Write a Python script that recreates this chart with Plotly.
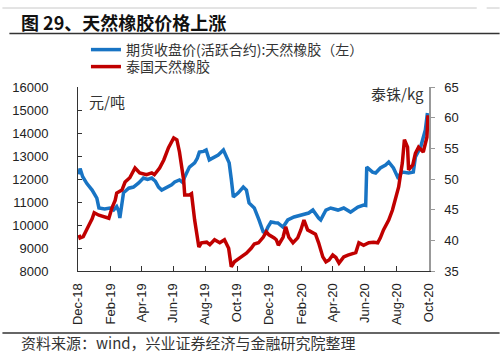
import plotly.graph_objects as go

# ---------------- data ----------------
futures_dates = [
    "2018-12-03","2018-12-05","2018-12-10","2018-12-18","2018-12-28","2019-01-06","2019-01-10",
    "2019-01-21","2019-01-31","2019-02-07","2019-02-13","2019-02-17","2019-02-19","2019-02-23",
    "2019-02-26","2019-03-08","2019-03-17","2019-03-27","2019-04-05","2019-04-13","2019-04-21",
    "2019-04-28","2019-05-04","2019-05-10","2019-05-17","2019-05-23","2019-05-29","2019-06-04",
    "2019-06-13","2019-06-19","2019-06-23","2019-07-02","2019-07-12","2019-07-17","2019-07-21",
    "2019-07-29","2019-08-03","2019-08-09","2019-08-17","2019-08-26","2019-09-05","2019-09-10",
    "2019-09-16","2019-09-20","2019-09-24","2019-10-03","2019-10-13","2019-10-19","2019-10-24",
    "2019-11-03","2019-11-08","2019-11-12","2019-11-20","2019-11-24","2019-11-29","2019-12-05",
    "2019-12-13","2019-12-18","2019-12-28","2020-01-06","2020-01-18","2020-01-31","2020-02-15",
    "2020-02-23","2020-02-29","2020-03-05","2020-03-09","2020-03-19","2020-03-28","2020-04-11",
    "2020-04-22","2020-05-05","2020-05-19","2020-05-30","2020-06-03","2020-06-05","2020-06-16",
    "2020-06-22","2020-07-01","2020-07-11","2020-07-17","2020-07-26","2020-08-03","2020-08-12",
    "2020-08-24","2020-09-02","2020-09-06","2020-09-16","2020-09-25","2020-09-29",
]
futures_price = [
    12200,12450,12100,11800,11520,11170,10740,
    10700,10740,10650,10800,10600,10300,10900,
    11400,11600,11650,11830,12040,11980,12040,
    11900,11650,11520,11600,11650,11750,11870,
    11960,11850,12090,12520,12700,12900,13170,
    13200,13260,12830,12950,13040,13260,13040,
    12700,12000,11220,11390,11650,11520,10960,
    10740,10500,10220,9700,9650,9910,10130,
    10100,10090,9910,10220,10350,10430,10520,
    10650,10430,10300,10220,10650,10740,10650,
    10740,10560,10780,10870,10850,12520,12300,
    12260,12480,12610,12740,12480,12090,12300,
    12260,12300,12960,13390,14130,14870,
]

thai_dates = [
    "2018-12-03","2018-12-05","2018-12-11","2018-12-14","2018-12-22","2018-12-28","2019-01-01",
    "2019-01-10","2019-01-20","2019-01-29","2019-02-04","2019-02-10","2019-02-13","2019-02-23",
    "2019-03-01","2019-03-10","2019-03-20","2019-03-29","2019-04-11","2019-04-21","2019-04-26",
    "2019-05-06","2019-05-14","2019-05-23","2019-06-02","2019-06-08","2019-06-13","2019-06-19",
    "2019-06-21","2019-06-23","2019-07-02","2019-07-06","2019-07-12","2019-07-20","2019-07-25",
    "2019-08-04","2019-08-10","2019-08-19","2019-08-29","2019-09-07","2019-09-15","2019-09-20",
    "2019-09-26","2019-10-09","2019-10-19","2019-10-28","2019-11-03","2019-11-11","2019-11-20",
    "2019-11-26","2019-12-01","2019-12-11","2019-12-15","2019-12-19","2019-12-28","2020-01-02",
    "2020-01-08","2020-01-16","2020-01-25","2020-01-31","2020-02-06","2020-02-13","2020-02-23",
    "2020-02-28","2020-03-05","2020-03-13","2020-03-19","2020-03-25","2020-04-01","2020-04-07",
    "2020-04-13","2020-04-22","2020-04-30","2020-05-09","2020-05-15","2020-05-21","2020-05-30",
    "2020-06-09","2020-06-18","2020-06-26","2020-07-01","2020-07-07","2020-07-17","2020-07-24",
    "2020-07-30","2020-08-05","2020-08-09","2020-08-12","2020-08-16","2020-08-22","2020-08-24",
    "2020-09-01","2020-09-06","2020-09-12","2020-09-21","2020-09-28","2020-09-30","2020-10-01",
]
thai_price = [
    40.9,40.4,40.6,41.2,42.5,43.5,44.5,
    44.1,43.9,43.6,45.3,46.5,47.7,48.2,
    49.5,50.2,51.8,51.0,50.7,51.0,50.7,
    51.8,53.1,55.1,56.7,56.4,54.4,51.0,
    49.8,47.4,47.4,47.6,43.3,38.9,39.6,
    39.7,39.3,40.1,39.6,40.1,38.7,35.7,
    36.5,37.3,37.9,38.7,39.4,39.6,40.5,
    41.4,40.9,40.4,40.1,39.2,40.5,42.2,
    40.5,39.6,40.4,41.7,43.3,41.7,41.2,
    41.0,39.6,37.3,36.5,36.8,37.6,37.2,
    36.3,37.3,37.6,37.9,38.0,39.6,39.2,
    39.6,39.7,39.6,40.4,41.7,43.3,44.9,
    47.1,48.7,51.0,52.6,56.4,55.2,51.5,
    52.3,54.2,55.2,54.4,56.8,60.4,58.0,
]

tick_dates = ["2018-12-01","2019-02-01","2019-04-01","2019-06-01","2019-08-01","2019-10-01",
              "2019-12-01","2020-02-01","2020-04-01","2020-06-01","2020-08-01","2020-10-01"]
tick_labels = ["Dec-18","Feb-19","Apr-19","Jun-19","Aug-19","Oct-19",
               "Dec-19","Feb-20","Apr-20","Jun-20","Aug-20","Oct-20"]

series_names = ["期货收盘价(活跃合约):天然橡胶（左）", "泰国天然橡胶"]
title_text = "图 29、天然橡胶价格上涨"
source_text = "资料来源：wind，兴业证券经济与金融研究院整理"
left_unit = "元/吨"
right_unit = "泰铢/kg"

# ---------------- layout geometry ----------------
W, H = 500, 355
L, R, T, B = 76, 71, 87, 84
PW, PH = W - L - R, H - T - B

def px(x):
    return (x - L) / PW

def py(y):
    return (H - B - y) / PH

CJK = "Noto Sans CJK SC"
LAT = "Liberation Sans, Arial"
BLUE = "#1874C4"
RED = "#C00000"

fig = go.Figure()
fig.add_trace(go.Scatter(x=futures_dates, y=futures_price, name=series_names[0], mode="lines",
                         line=dict(color=BLUE, width=3.5), yaxis="y", legend="legend"))
fig.add_trace(go.Scatter(x=thai_dates, y=thai_price, name=series_names[1], mode="lines",
                         line=dict(color=RED, width=3.5), yaxis="y2", legend="legend2"))

legend_common = dict(xanchor="left", yanchor="top",
                     font=dict(family=CJK, size=14, color="#333"),
                     bgcolor="rgba(0,0,0,0)", borderwidth=0)

fig.update_layout(
    width=W, height=H, autosize=False,
    margin=dict(l=L, r=R, t=T, b=B),
    paper_bgcolor="white", plot_bgcolor="white",
    showlegend=True,
    legend=dict(x=px(84), y=py(34), **legend_common),
    legend2=dict(x=px(84), y=py(51), **legend_common),
    xaxis=dict(type="date", range=["2018-12-01", "2020-10-02"],
               tickvals=tick_dates, ticktext=tick_labels, tickangle=-90,
               ticks="inside", ticklen=5, tickcolor="#333", tickwidth=1,
               showline=True, linecolor="#333", linewidth=1, showgrid=False, zeroline=False,
               tickfont=dict(family=LAT, size=13, color="#222"), ticklabelstandoff=6),
    yaxis=dict(range=[8000, 16000], dtick=1000, tick0=8000, tickformat="d",
               ticks="inside", ticklen=4, tickcolor="#333",
               showline=True, linecolor="#333", linewidth=1, showgrid=False, zeroline=False,
               tickfont=dict(family=LAT, size=13, color="#222"), ticklabelstandoff=26),
    yaxis2=dict(range=[35, 65], dtick=5, tick0=35, overlaying="y", side="right",
                ticks="outside", ticklen=4, tickcolor="#999",
                showline=True, linecolor="#999", linewidth=1.5, showgrid=False, zeroline=False,
                tickfont=dict(family=LAT, size=13, color="#222"), ticklabelstandoff=7),
)

ann = [
    dict(text=f"<b>{title_text}</b>", x=px(17), y=py(22), xanchor="left", yanchor="middle",
         font=dict(family=CJK, size=18, color="#111")),
    dict(text=left_unit, x=px(85), y=py(101), xanchor="left", yanchor="middle",
         font=dict(family=CJK, size=15, color="#333")),
    dict(text=right_unit, x=px(426), y=py(94), xanchor="right", yanchor="middle",
         font=dict(family=CJK, size=15, color="#333")),
    dict(text=source_text, x=px(17), y=py(342), xanchor="left", yanchor="middle",
         font=dict(family=CJK, size=15, color="#333")),
]
for a in ann:
    a.update(xref="paper", yref="paper", showarrow=False)
fig.update_layout(annotations=ann)

shapes = [
    dict(x0=px(0), x1=px(477), y0=py(8), y1=py(8), line=dict(color="#c8c8c8", width=1)),
    dict(x0=px(487), x1=px(500), y0=py(8), y1=py(8), line=dict(color="#c8c8c8", width=1)),
    dict(x0=px(7), x1=px(500), y0=py(33.5), y1=py(33.5), line=dict(color="#333", width=1.5)),
    dict(x0=px(0), x1=px(500), y0=py(333), y1=py(333), line=dict(color="#333", width=1.5)),
]
for s in shapes:
    s.update(type="line", xref="paper", yref="paper")
fig.update_layout(shapes=shapes)

fig.write_html("out.html", config={"displayModeBar": False},
               post_script="document.body.style.margin='0px';")
